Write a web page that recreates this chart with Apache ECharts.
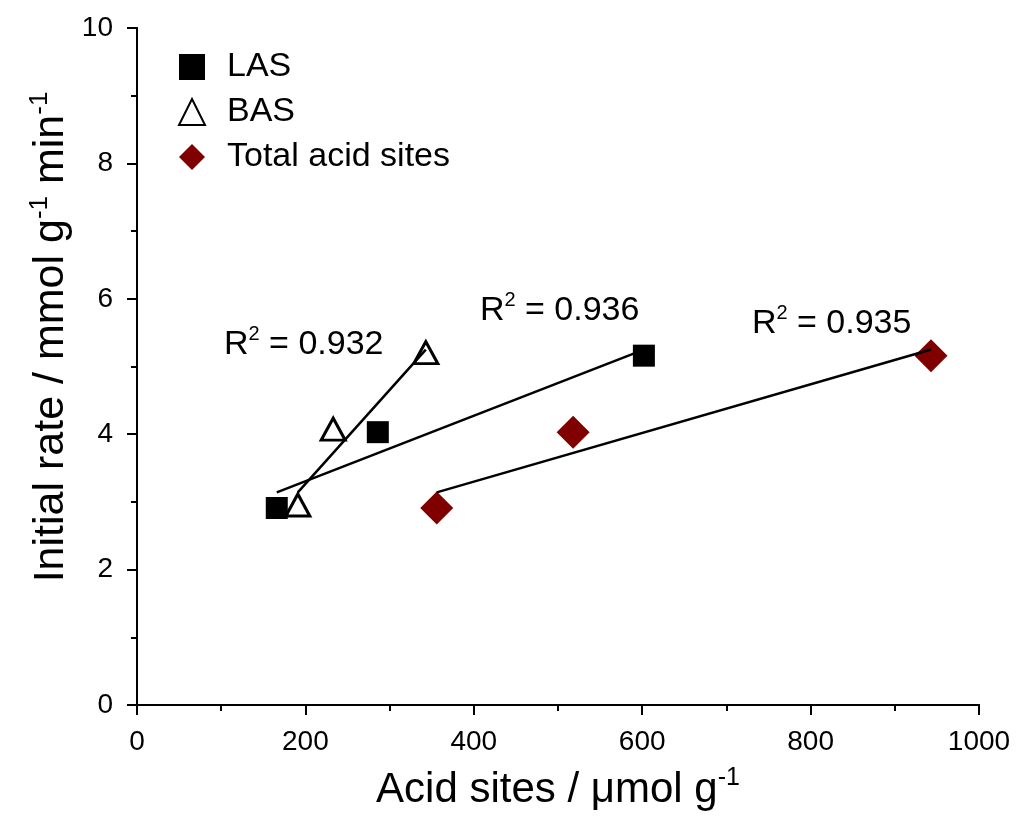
<!DOCTYPE html>
<html>
<head>
<meta charset="utf-8">
<script src="https://cdn.jsdelivr.net/npm/echarts@6/dist/echarts.min.js"></script>
<style>
html,body{margin:0;padding:0;background:#fff;}
#chart{width:1023px;height:837px;}
</style>
</head>
<body>
<div id="chart"></div>
<script>
// ---- data ----
const rates = [2.91, 4.03, 5.16];            // initial rate, mmol g-1 min-1
const lasSites = [166, 286, 602];             // LAS, µmol g-1
const basSites = [191, 233, 343];             // BAS, µmol g-1
const totalSites = [356, 518, 943];           // total acid sites, µmol g-1
const lasFit = [[166, 3.14], [602, 5.25]];
const basFit = [[191, 3.14], [343, 5.25]];
const totalFit = [[356, 3.14], [943, 5.25]];
const r2Values = ['0.932', '0.936', '0.935'];
const r2Positions = [[198, 5.32], [502, 5.83], [825, 5.63]];
const seriesNames = ['LAS', 'BAS', 'Total acid sites'];
const xTicks = [0, 200, 400, 600, 800, 1000];
const yTicks = [0, 2, 4, 6, 8, 10];

const FONT = '"Liberation Sans", Arial, sans-serif';
const pair = (xs, ys) => xs.map((x, i) => [x, ys[i]]);

const chart = echarts.init(document.getElementById('chart'), null, {renderer: 'canvas'});

const axisCommon = {
  axisLine: {show: true, onZero: false, lineStyle: {color: '#000', width: 2}},
  axisTick: {show: true, inside: false, length: 10, lineStyle: {color: '#000', width: 2}},
  minorTick: {show: true, splitNumber: 2, length: 6, lineStyle: {color: '#000', width: 2}},
  splitLine: {show: false},
  axisLabel: {color: '#000', fontFamily: FONT, fontSize: 28, formatter: v => String(v)}
};

const option = {
  backgroundColor: '#fff',
  animation: false,
  grid: {left: 137, right: 44, top: 28, bottom: 132, containLabel: false},
  xAxis: [
    Object.assign({}, axisCommon, {
      type: 'value', min: xTicks[0], max: xTicks[xTicks.length - 1], interval: 200,
      position: 'bottom',
      axisLabel: Object.assign({}, axisCommon.axisLabel, {margin: 23})
    }),
    {
      type: 'value', min: xTicks[0], max: xTicks[xTicks.length - 1], position: 'top',
      axisLine: {show: true, lineStyle: {color: '#000', width: 2}},
      axisTick: {show: false}, axisLabel: {show: false}, splitLine: {show: false}
    }
  ],
  yAxis: [
    Object.assign({}, axisCommon, {
      type: 'value', min: yTicks[0], max: yTicks[yTicks.length - 1], interval: 2,
      position: 'left',
      axisLabel: Object.assign({}, axisCommon.axisLabel, {margin: 24})
    }),
    {
      type: 'value', min: yTicks[0], max: yTicks[yTicks.length - 1], position: 'right',
      axisLine: {show: true, lineStyle: {color: '#000', width: 2}},
      axisTick: {show: false}, axisLabel: {show: false}, splitLine: {show: false}
    }
  ],
  legend: {
    data: seriesNames,
    orient: 'vertical',
    left: 173, top: 42,
    itemWidth: 26, itemHeight: 26,
    itemGap: 5,
    textStyle: {color: '#000', fontFamily: FONT, fontSize: 34, lineHeight: 40, padding: [0, 0, 0, 17]}
  },
  series: [
    {
      name: seriesNames[0], type: 'scatter', data: pair(lasSites, rates),
      symbol: 'rect', symbolSize: 22, z: 2,
      itemStyle: {color: '#000', opacity: 1}
    },
    {
      name: seriesNames[1], type: 'scatter', data: pair(basSites, rates),
      symbol: 'triangle', symbolSize: [24, 22], symbolOffset: [0, -3], z: 2,
      itemStyle: {color: '#fff', borderColor: '#000', borderWidth: 3, opacity: 1}
    },
    {
      name: seriesNames[2], type: 'scatter', data: pair(totalSites, rates),
      symbol: 'diamond', symbolSize: 33, z: 2,
      itemStyle: {color: '#800000', opacity: 1}
    },
    {type: 'line', data: lasFit, symbol: 'none', z: 5, lineStyle: {color: '#000', width: 2.5}, silent: true},
    {type: 'line', data: basFit, symbol: 'none', z: 5, lineStyle: {color: '#000', width: 2.5}, silent: true},
    {type: 'line', data: totalFit, symbol: 'none', z: 5, lineStyle: {color: '#000', width: 2.5}, silent: true},
    {
      type: 'scatter', symbolSize: 0, z: 6, silent: true,
      itemStyle: {opacity: 1},
      data: r2Positions.map((p, i) => ({value: p, label: {formatter: '{r|R}{s|2}{r| = ' + r2Values[i] + '}'}})),
      label: {
        show: true, position: 'inside', color: '#000', opacity: 1,
        rich: {
          r: {fontFamily: FONT, fontSize: 34, lineHeight: 40, color: '#000'},
          s: {fontFamily: FONT, fontSize: 20, lineHeight: 22, verticalAlign: 'top', color: '#000'}
        }
      }
    }
  ],
  graphic: [
    {
      type: 'text', x: 558, y: 790, z: 10,
      style: {
        text: '{m|Acid sites / μmol g}{s|-1}',
        align: 'center', verticalAlign: 'middle',
        rich: {
          m: {fontFamily: FONT, fontSize: 42, lineHeight: 48, fill: '#000'},
          s: {fontFamily: FONT, fontSize: 25, lineHeight: 26, verticalAlign: 'top', fill: '#000'}
        }
      }
    },
    {
      type: 'text', x: 51, y: 337, rotation: Math.PI / 2, z: 10,
      style: {
        text: '{m|Initial rate / mmol g}{s|-1}{m| min}{s|-1}',
        align: 'center', verticalAlign: 'middle',
        rich: {
          m: {fontFamily: FONT, fontSize: 43, lineHeight: 48, fill: '#000'},
          s: {fontFamily: FONT, fontSize: 26, lineHeight: 27, verticalAlign: 'top', fill: '#000'}
        }
      }
    }
  ]
};

chart.setOption(option);
</script>
</body>
</html>
